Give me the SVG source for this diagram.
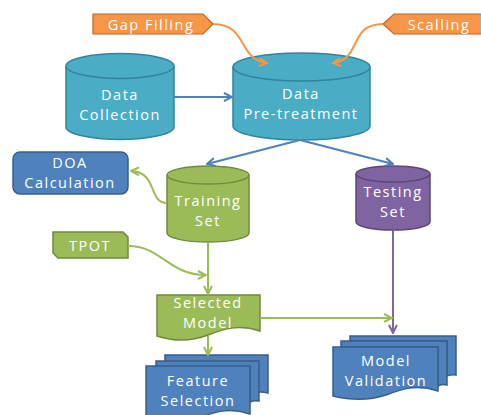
<svg xmlns="http://www.w3.org/2000/svg" width="481" height="415" viewBox="0 0 481 415">
<style>
  text { font-family: "Open Sans", "Noto Sans", "DejaVu Sans", sans-serif; font-size: 14.5px; fill: #ffffff; text-anchor: middle; letter-spacing: 1.5px; }
  .cyan { fill: #4BACC6; stroke: #31849B; stroke-width: 1.5; }
  .orange { fill: #F79646; stroke: #C0632A; stroke-width: 1.2; }
  .green { fill: #9BBB59; stroke: #71893F; stroke-width: 1.5; }
  .purple { fill: #8064A2; stroke: #5C4776; stroke-width: 1.5; }
  .blue { fill: #4F81BD; stroke: #385D8A; stroke-width: 1.5; }
  .c { fill: none; stroke-width: 2; }
  .cb { stroke: #4F81BD; }
  .cg { stroke: #9BBB59; }
  .co { stroke: #F79646; }
  .cp { stroke: #8064A2; }
</style>
<defs>
  <marker id="ab" viewBox="0 0 10 10" refX="9" refY="5" markerWidth="5" markerHeight="5" orient="auto" markerUnits="strokeWidth">
    <path d="M1,1 L9,5 L1,9" fill="none" stroke="#4F81BD" stroke-width="2"/>
  </marker>
  <marker id="ag" viewBox="0 0 10 10" refX="9" refY="5" markerWidth="5" markerHeight="5" orient="auto" markerUnits="strokeWidth">
    <path d="M1,1 L9,5 L1,9" fill="none" stroke="#9BBB59" stroke-width="2"/>
  </marker>
  <marker id="ao" viewBox="0 0 10 10" refX="9" refY="5" markerWidth="5" markerHeight="5" orient="auto" markerUnits="strokeWidth">
    <path d="M1,1 L9,5 L1,9" fill="none" stroke="#F79646" stroke-width="2"/>
  </marker>
  <marker id="ap" viewBox="0 0 10 10" refX="9" refY="5" markerWidth="5" markerHeight="5" orient="auto" markerUnits="strokeWidth">
    <path d="M1,1 L9,5 L1,9" fill="none" stroke="#8064A2" stroke-width="2"/>
  </marker>
</defs>
<rect width="481" height="415" fill="#ffffff"/>

<g id="gap-filling">
  <path class="orange" d="M93,14 H203 L213,24 L203,34 H93 Z"/>
  <text x="151" y="29.5">Gap Filling</text>
</g>

<g id="scalling">
  <path class="orange" d="M483,14 H394 L383,24 L394,34 H483 Z"/>
  <text x="439" y="29.5">Scalling</text>
</g>

<g id="data-collection">
  <path class="cyan" d="M66,66 V127 A54,12.5 0 0 0 174,127 V66 A54,12.5 0 0 0 66,66 Z"/>
  <path class="cyan" d="M66,66 A54,12.5 0 0 0 174,66" fill="none"/>
  <text x="120" y="99.5">Data</text>
  <text x="120" y="119.5">Collection</text>
</g>

<g id="data-pretreatment">
  <path class="cyan" d="M233,67 V126 A68.5,14 0 0 0 370,126 V67 A68.5,14 0 0 0 233,67 Z"/>
  <path class="cyan" d="M233,67 A68.5,14 0 0 0 370,67" fill="none"/>
  <text x="301" y="98.5">Data</text>
  <text x="301" y="118.5">Pre-treatment</text>
</g>

<g id="doa-calculation">
  <rect class="blue" x="13" y="152" width="115" height="42" rx="7"/>
  <text x="70" y="168">DOA</text>
  <text x="70" y="188">Calculation</text>
</g>

<g id="training-set">
  <path class="green" d="M167,175 V233 A41,9 0 0 0 249,233 V175 A41,9 0 0 0 167,175 Z"/>
  <path class="green" d="M167,175 A41,9 0 0 0 249,175" fill="none"/>
  <text x="208" y="205.5">Training</text>
  <text x="208" y="225.5">Set</text>
</g>

<g id="testing-set">
  <path class="purple" d="M356,174 V222 A37,8 0 0 0 430,222 V174 A37,8 0 0 0 356,174 Z"/>
  <path class="purple" d="M356,174 A37,8 0 0 0 430,174" fill="none"/>
  <text x="393" y="197">Testing</text>
  <text x="393" y="217">Set</text>
</g>

<g id="tpot">
  <path class="green" d="M53,232 H123 L128,237 V258 H58 L53,253 Z"/>
  <text x="90" y="250.5">TPOT</text>
</g>

<g id="selected-model">
  <path class="green" d="M157,295 H260 V331 C238,324 224,329 208,335 C190,342 172,341 157,336 Z"/>
  <text x="208" y="308">Selected</text>
  <text x="208" y="328">Model</text>
</g>

<g id="feature-selection">
  <path class="blue" d="M165,355 H268 V393 C260,391 255,392 250,394 V362 H165 Z"/>
  <path class="blue" d="M156,361 H259 V401 C254,400 252,401 250,402 V367 H156 Z"/>
  <path class="blue" d="M146,366 H250 V414 C228,407 214,412 198,418 C180,424 162,423 146,419 Z"/>
  <text x="198" y="386">Feature</text>
  <text x="198" y="406">Selection</text>
</g>

<g id="model-validation">
  <path class="blue" d="M350,336 H456 V375 C452,374 450,375 447,376 V341 H350 Z"/>
  <path class="blue" d="M341,341 H447 V385 C443,384 440,385 438,386 V347 H341 Z"/>
  <path class="blue" d="M333,347 H438 V391 C416,384 402,389 386,395 C368,401 350,400 333,396 Z"/>
  <text x="386" y="366">Model</text>
  <text x="386" y="386">Validation</text>
</g>

<g id="connectors">
  <path class="c co" d="M213,24 C248,24 238,60 267,63" marker-end="url(#ao)"/>
  <path class="c co" d="M383,24 C348,24 362,60 333,63" marker-end="url(#ao)"/>
  <path class="c cb" d="M174,97 L232,97" marker-end="url(#ab)"/>
  <path class="c cb" d="M300,140 L207,164" marker-end="url(#ab)"/>
  <path class="c cb" d="M300,140 L393,164" marker-end="url(#ab)"/>
  <path class="c cg" d="M167,203 C148,203 158,172 131,171" marker-end="url(#ag)"/>
  <path class="c cg" d="M128,246 C162,246 168,275 206,275" marker-end="url(#ag)"/>
  <path class="c cg" d="M208,242 L208,294" marker-end="url(#ag)"/>
  <path class="c cp" d="M393,230 L393,333" marker-end="url(#ap)"/>
  <path class="c cg" d="M260,318 L392,318" marker-end="url(#ag)"/>
  <path class="c cg" d="M208,336 L208,355" marker-end="url(#ag)"/>
</g>
</svg>
